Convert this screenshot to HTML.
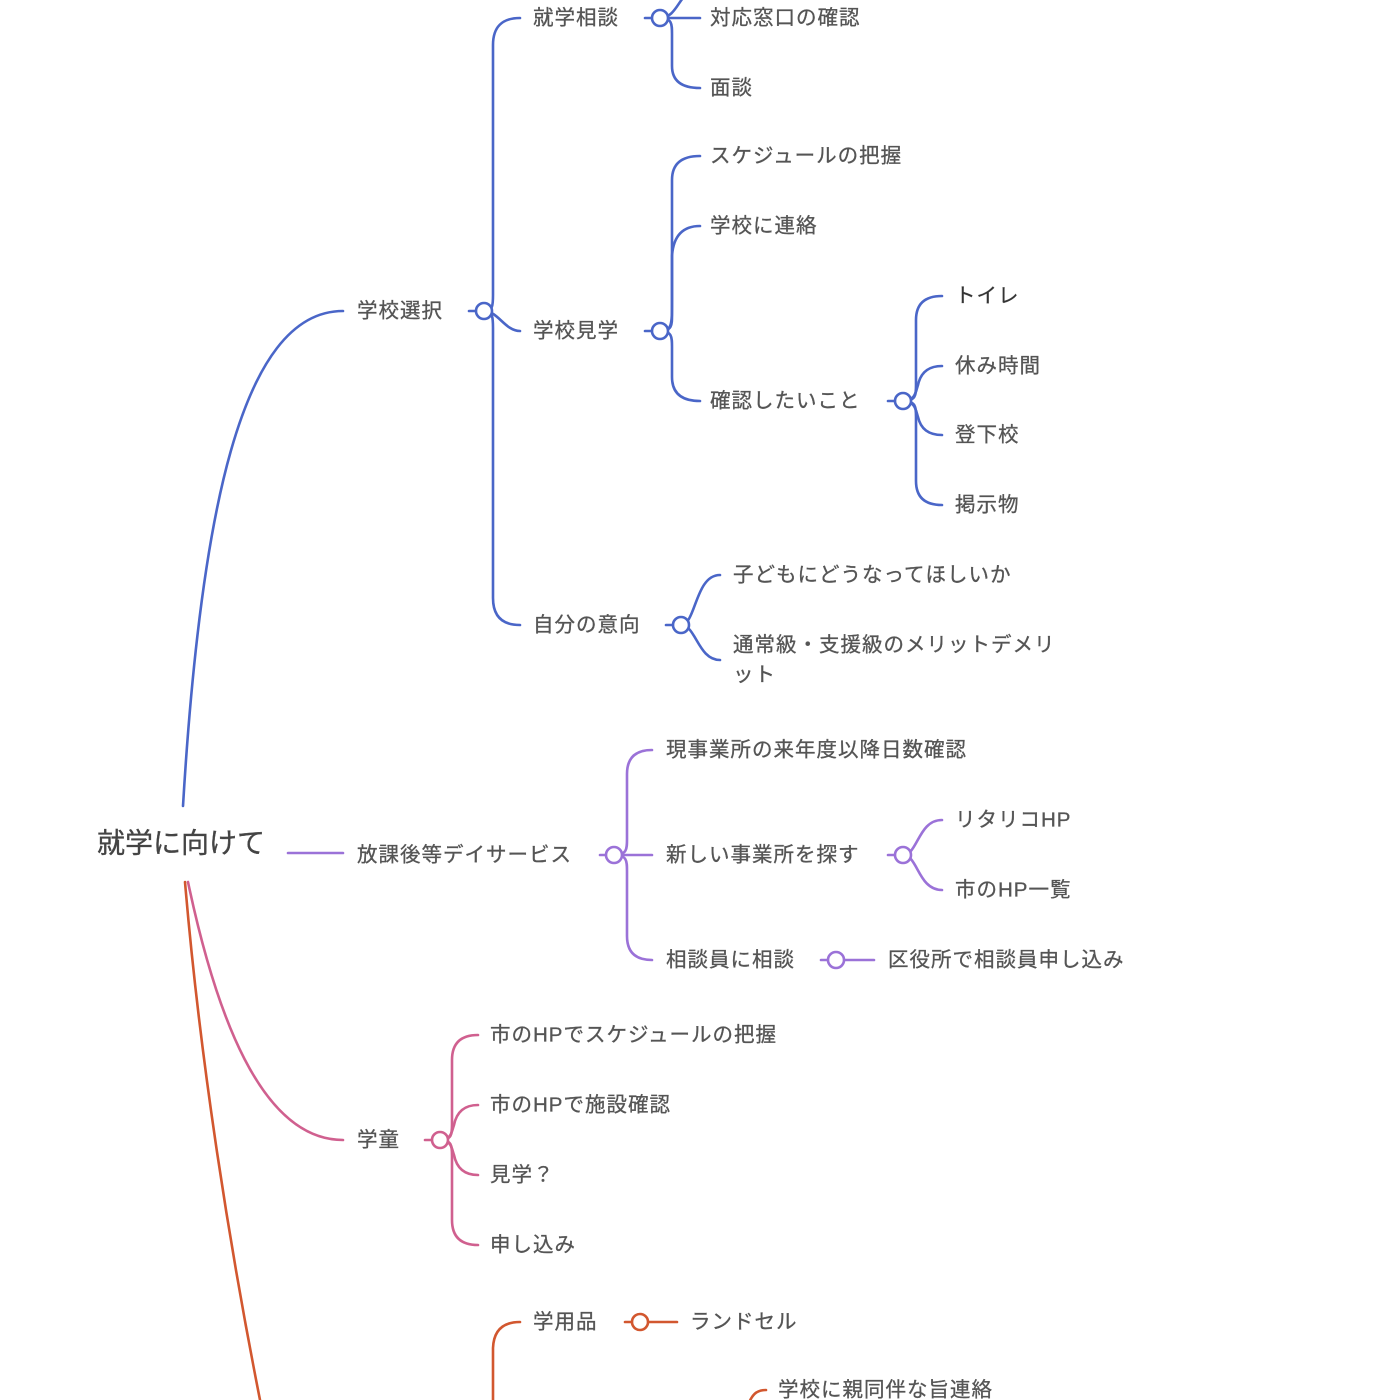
<!DOCTYPE html>
<html><head><meta charset="utf-8"><style>
html,body{margin:0;padding:0;background:#fff;}
svg{display:block}
text{font-family:"Liberation Sans","Noto Sans CJK JP",sans-serif;font-size:20.5px;letter-spacing:1px;fill:#555;dominant-baseline:central;stroke:#555;stroke-width:0.3px}
.b{stroke:#4a66c8}.p{stroke:#9b72d8}.k{stroke:#d0608f}.o{stroke:#d2572f}
path,line,circle{fill:none;stroke-width:2.6;stroke-linecap:round}
circle{fill:#fff}
</style></head><body>
<svg width="1400" height="1400" viewBox="0 0 1400 1400">
<text x="97" y="843" style="font-size:28px;fill:#444;stroke:#444;letter-spacing:0">就学に向けて</text>

<!-- BLUE -->
<path class="b" d="M183 806 C200 520 240 311 343 311"/>
<text x="357" y="311">学校選択</text>
<line class="b" x1="469" y1="311" x2="476" y2="311"/>
<path class="b" d="M484 311 C493 311 493 305 493 295 L493 45 Q493 18 520 18"/>
<path class="b" d="M484 311 C493 311 493 318 493 328 L493 598 Q493 625 520 625"/>
<path class="b" d="M484 311 C498 311 505 331 520 331"/>
<circle class="b" cx="484" cy="311" r="8"/>

<text x="533" y="18">就学相談</text>
<line class="b" x1="645" y1="18" x2="652" y2="18"/>
<path class="b" d="M660 18 L700 18"/>
<path class="b" d="M660 18 C672 18 672 24 672 34 L672 66 Q672 88 700 88"/>
<path class="b" d="M660 18 C675 18 678 0 690 -10"/>
<circle class="b" cx="660" cy="18" r="8"/>
<text x="710" y="18">対応窓口の確認</text>
<text x="710" y="88">面談</text>

<text x="533" y="331">学校見学</text>
<line class="b" x1="645" y1="331" x2="652" y2="331"/>
<path class="b" d="M660 331 C672 331 672 325 672 315 L672 180 Q672 156 700 156"/>
<path class="b" d="M660 331 C672 331 672 325 672 300 L672 256 Q674 226 700 226"/>
<path class="b" d="M660 331 C672 331 672 337 672 347 L672 377 Q672 401 700 401"/>
<circle class="b" cx="660" cy="331" r="8"/>
<text x="710" y="156">スケジュールの把握</text>
<text x="710" y="226">学校に連絡</text>
<text x="710" y="401">確認したいこと</text>

<line class="b" x1="888" y1="401" x2="895" y2="401"/>
<path class="b" d="M903 401 C916 401 916 395 916 385 L916 320 Q916 296 942 296"/>
<path class="b" d="M903 401 C916 401 916 390 918 385 Q922 366 942 366"/>
<path class="b" d="M903 401 C916 401 916 412 918 417 Q922 435 942 435"/>
<path class="b" d="M903 401 C916 401 916 407 916 417 L916 481 Q916 505 942 505"/>
<circle class="b" cx="903" cy="401" r="8"/>
<text x="955" y="296" style="fill:#333">トイレ</text>
<text x="955" y="366">休み時間</text>
<text x="955" y="435">登下校</text>
<text x="955" y="505">掲示物</text>

<text x="533" y="625">自分の意向</text>
<line class="b" x1="666" y1="625" x2="673" y2="625"/>
<path class="b" d="M681 625 C696 625 695 575 720 575"/>
<path class="b" d="M681 625 C696 625 698 660 720 660"/>
<circle class="b" cx="681" cy="625" r="8"/>
<text x="733" y="575">子どもにどうなってほしいか</text>
<text x="733" y="645">通常級・支援級のメリットデメリ</text>
<text x="733" y="675">ット</text>

<!-- PURPLE -->
<line class="p" x1="288" y1="853" x2="343" y2="853"/>
<text x="357" y="855">放課後等デイサービス</text>
<line class="p" x1="600" y1="855" x2="606" y2="855"/>
<path class="p" d="M614 855 C627 855 627 849 627 839 L627 774 Q627 750 652 750"/>
<path class="p" d="M614 855 L652 855"/>
<path class="p" d="M614 855 C627 855 627 861 627 871 L627 936 Q627 960 652 960"/>
<circle class="p" cx="614" cy="855" r="8"/>
<text x="666" y="750">現事業所の来年度以降日数確認</text>
<text x="666" y="855">新しい事業所を探す</text>
<text x="666" y="960">相談員に相談</text>

<line class="p" x1="888" y1="855" x2="895" y2="855"/>
<path class="p" d="M903 855 C918 855 918 820 942 820"/>
<path class="p" d="M903 855 C918 855 918 890 942 890"/>
<circle class="p" cx="903" cy="855" r="8"/>
<text x="955" y="820">リタリコHP</text>
<text x="955" y="890">市のHP一覧</text>

<line class="p" x1="821" y1="960" x2="828" y2="960"/>
<line class="p" x1="844" y1="960" x2="874" y2="960"/>
<circle class="p" cx="836" cy="960" r="8"/>
<text x="888" y="960">区役所で相談員申し込み</text>

<!-- PINK -->
<path class="k" d="M188 882 C215 1010 260 1140 343 1140"/>
<text x="357" y="1140">学童</text>
<line class="k" x1="425" y1="1140" x2="432" y2="1140"/>
<path class="k" d="M440 1140 C452 1140 452 1134 452 1124 L452 1060 Q452 1035 478 1035"/>
<path class="k" d="M440 1140 C452 1140 452 1130 454 1125 Q458 1105 478 1105"/>
<path class="k" d="M440 1140 C452 1140 452 1150 454 1155 Q458 1175 478 1175"/>
<path class="k" d="M440 1140 C452 1140 452 1146 452 1156 L452 1220 Q452 1245 478 1245"/>
<circle class="k" cx="440" cy="1140" r="8"/>
<text x="490" y="1035">市のHPでスケジュールの把握</text>
<text x="490" y="1105">市のHPで施設確認</text>
<text x="490" y="1175">見学？</text>
<text x="490" y="1245">申し込み</text>

<!-- ORANGE -->
<path class="o" d="M185 882 C200 1060 230 1250 262 1410"/>
<path class="o" d="M493 1410 L493 1348 Q494 1322 520 1322"/>
<text x="533" y="1322">学用品</text>
<line class="o" x1="625" y1="1322" x2="632" y2="1322"/>
<line class="o" x1="648" y1="1322" x2="677" y2="1322"/>
<circle class="o" cx="640" cy="1322" r="8"/>
<text x="690" y="1322">ランドセル</text>
<path class="o" d="M748 1405 C752 1395 756 1390 766 1390"/>
<text x="778" y="1390">学校に親同伴な旨連絡</text>
</svg>
</body></html>
